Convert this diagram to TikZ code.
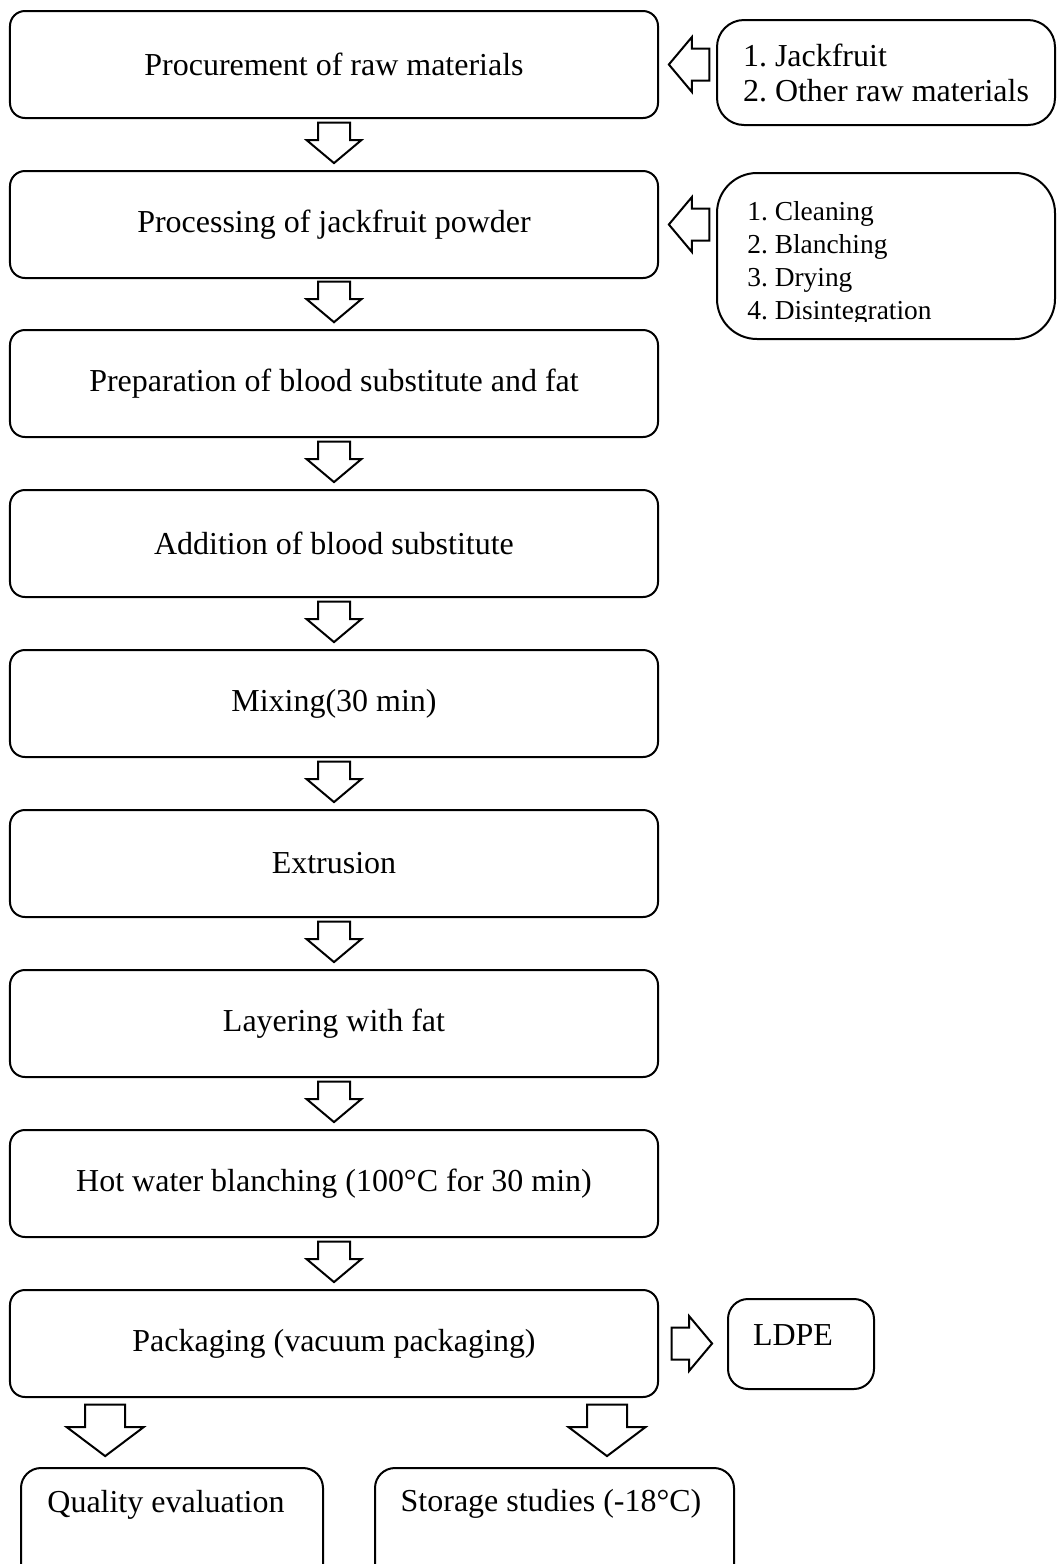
\documentclass[tikz,border=0pt]{standalone}
\usepackage{fontspec}
\setmainfont{Liberation Serif}
\frenchspacing
\usetikzlibrary{positioning,calc,shapes.arrows}

\begin{document}
\begin{tikzpicture}[
	stepbox/.style={draw,line width=0.04cm,rounded corners=0.3cm,minimum width=12.96cm,minimum height=2.14cm,inner sep=0pt,font=\fontsize{18.2}{20}\selectfont},
	sidebox/.style={draw,line width=0.04cm,inner sep=0pt,font=\fontsize{18.2}{19.9}\selectfont},
	boxtext/.style={inner sep=0pt,font=\fontsize{18.2}{20}\selectfont},
	flowarrow/.style={draw,line width=0.04cm,single arrow,single arrow tip angle=100,single arrow head extend=0.23cm,inner xsep=0pt,inner ysep=0.3cm,minimum height=0.81cm,anchor=tip},
	bigarrow/.style={flowarrow,single arrow tip angle=106,single arrow head extend=0.37cm,inner ysep=0.38cm,minimum height=1.03cm}]
	\useasboundingbox (0,0) rectangle (21.14,-31.28);
	\fill[white] (0,0) rectangle (21.14,-31.28);
	\draw
		(6.68,-1.29) node[stepbox](proc){Procurement of raw materials}
		(6.68,-4.49) node[stepbox](powder){Processing of jackfruit powder}
		(6.68,-7.67) node[stepbox](prep){Preparation of blood substitute and fat}
		(6.68,-10.87) node[stepbox](addn){Addition of blood substitute}
		(6.68,-14.07) node[stepbox](mixing){Mixing(30 min)}
		(6.68,-17.27) node[stepbox](extr){Extrusion}
		(6.68,-20.47) node[stepbox](layer){Layering with fat}
		(6.68,-23.67) node[stepbox](blanch){Hot water blanching (100°C for 30 min)}
		(6.68,-26.87) node[stepbox](pack){Packaging (vacuum packaging)};
	\draw
		(17.72,-1.45) node[sidebox,rounded corners=0.54cm,minimum width=6.76cm,minimum height=2.1cm,align=left](raw){1. Jackfruit\\2. Other raw materials}
		(17.72,-5.12) node[sidebox,rounded corners=0.8cm,minimum width=6.76cm,minimum height=3.32cm](steps){}
		(16.02,-26.88) node[sidebox,rounded corners=0.4cm,minimum width=2.92cm,minimum height=1.8cm](ldpe){}
		(15.86,-26.7) node[boxtext](ldpetext){LDPE}
		(3.44,-30.58) node[sidebox,rounded corners=0.4cm,minimum width=6.04cm,minimum height=2.44cm](qual){}
		(3.32,-30.1) node[boxtext](qualtext){Quality evaluation}
		(11.09,-30.58) node[sidebox,rounded corners=0.4cm,minimum width=7.18cm,minimum height=2.44cm](stor){}
		(11.02,-30.08) node[boxtext](stortext){Storage studies (-18°C)};
	\begin{scope}
		\clip (14,-3.4) rectangle (21.14,-6.42);
		\node[anchor=west,align=left,inner sep=0pt,font=\fontsize{15.6}{18.9}\selectfont](stepstext) at (14.94,-5.27){1. Cleaning\\2. Blanching\\3. Drying\\4. Disintegration};
	\end{scope}
	\path (proc.south) -- node[flowarrow,rotate=-90,pos=0.89]{} (powder.north);
	\path (powder.south) -- node[flowarrow,rotate=-90,pos=0.89]{} (prep.north);
	\path (prep.south) -- node[flowarrow,rotate=-90,pos=0.89]{} (addn.north);
	\path (addn.south) -- node[flowarrow,rotate=-90,pos=0.89]{} (mixing.north);
	\path (mixing.south) -- node[flowarrow,rotate=-90,pos=0.89]{} (extr.north);
	\path (extr.south) -- node[flowarrow,rotate=-90,pos=0.89]{} (layer.north);
	\path (layer.south) -- node[flowarrow,rotate=-90,pos=0.89]{} (blanch.north);
	\path (blanch.south) -- node[flowarrow,rotate=-90,pos=0.89]{} (pack.north);
	\path (proc.east) -- node[flowarrow,rotate=180,pos=0.15]{} (proc.east -| raw.west);
	\path (powder.east) -- node[flowarrow,rotate=180,pos=0.15]{} (powder.east -| steps.west);
	\path (pack.east) -- node[flowarrow,pos=0.8]{} (pack.east -| ldpe.west);
	\coordinate (qualout) at ($(pack.south west)!0.148!(pack.south east)$);
	\coordinate (storout) at ($(pack.south west)!0.92!(pack.south east)$);
	\path (qualout) -- node[bigarrow,rotate=-90,pos=0.86]{} (qualout |- qual.north);
	\path (storout) -- node[bigarrow,rotate=-90,pos=0.86]{} (storout |- stor.north);
\end{tikzpicture}
\end{document}
